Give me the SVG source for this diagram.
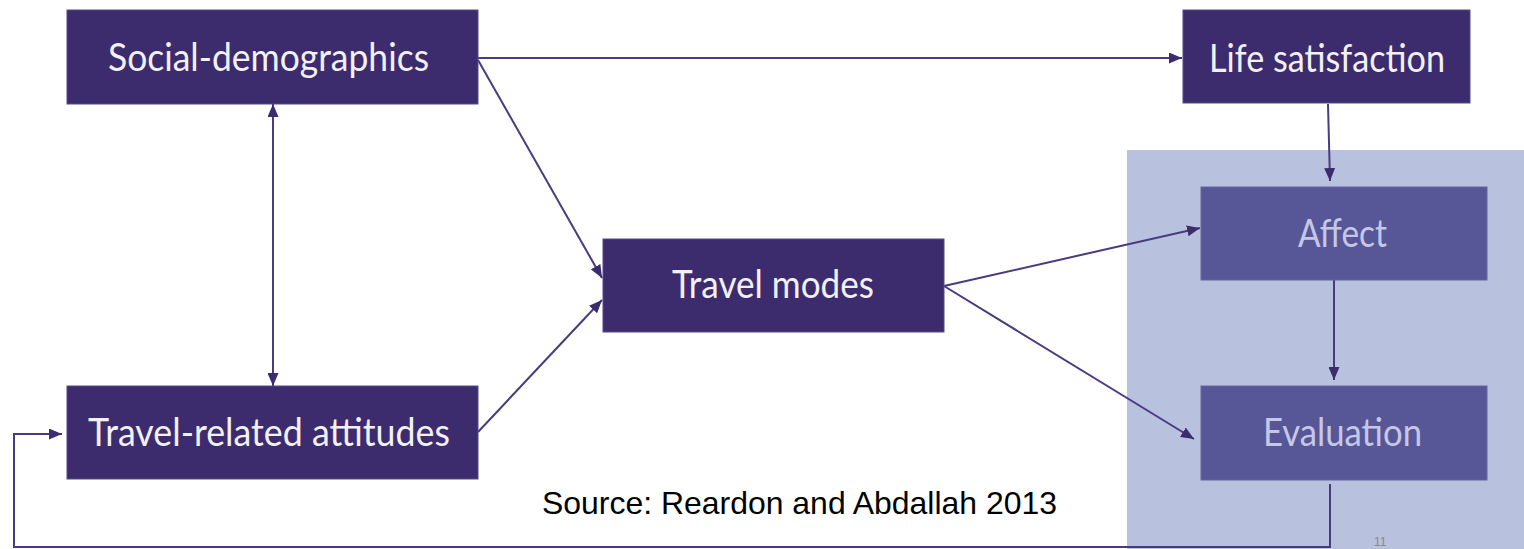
<svg xmlns="http://www.w3.org/2000/svg" width="1524" height="549" viewBox="0 0 1524 549">
<style>
.dark{fill:#3D2C6D;stroke:#55488A;stroke-width:1}
.light{fill:#575797;stroke:#6464A3;stroke-width:1}
.t{font-family:Lato,"Open Sans",sans-serif;font-size:38px;text-anchor:start}
.tw{fill:#F2F1F7}
.tl{fill:#C4C8E6}
.c{fill:none;stroke:#4A3A7E;stroke-width:2}
</style>
<defs>
<marker id="ah" viewBox="0 0 13 11" refX="13" refY="5.5" markerWidth="13" markerHeight="11" markerUnits="userSpaceOnUse" orient="auto-start-reverse">
<path d="M0,0 L13,5.5 L0,11 Z" fill="#3D2C6D"/>
</marker>
</defs>
<rect x="1127" y="150" width="397" height="399" fill="#B8C1DE"/>
<g id="connectors">
<line class="c" x1="478" y1="58" x2="1182" y2="58" marker-end="url(#ah)"/>
<line class="c" x1="478" y1="60" x2="602" y2="278" marker-end="url(#ah)"/>
<line class="c" x1="478" y1="432" x2="602" y2="300" marker-end="url(#ah)"/>
<line class="c" x1="273" y1="104" x2="273" y2="386" marker-start="url(#ah)" marker-end="url(#ah)"/>
<line class="c" x1="944" y1="286" x2="1200" y2="228" marker-end="url(#ah)"/>
<line class="c" x1="944" y1="286" x2="1194" y2="439" marker-end="url(#ah)"/>
<line class="c" x1="1328" y1="104" x2="1330" y2="181" marker-end="url(#ah)"/>
<line class="c" x1="1334" y1="280" x2="1334" y2="380" marker-end="url(#ah)"/>
<polyline class="c" points="1330,484 1330,547 14,547 14,434 62,434" stroke="#7468A6" marker-end="url(#ah)"/>
</g>
<g id="social-demographics">
<rect class="dark" x="67" y="10" width="411" height="94"/>
<text class="t tw" x="108" y="71" textLength="321" lengthAdjust="spacingAndGlyphs">Social-demographics</text>
</g>
<g id="travel-related-attitudes">
<rect class="dark" x="67" y="386" width="411" height="93"/>
<text class="t tw" x="88" y="446" textLength="362" lengthAdjust="spacingAndGlyphs">Travel-related attitudes</text>
</g>
<g id="travel-modes">
<rect class="dark" x="603" y="239" width="341" height="93"/>
<text class="t tw" x="672" y="298" textLength="202" lengthAdjust="spacingAndGlyphs">Travel modes</text>
</g>
<g id="life-satisfaction">
<rect class="dark" x="1183" y="10" width="287" height="93"/>
<text class="t tw" x="1209" y="72" textLength="236" lengthAdjust="spacingAndGlyphs">Life satisfaction</text>
</g>
<g id="affect">
<rect class="light" x="1201" y="187" width="286" height="93"/>
<text class="t tl" x="1298" y="247" textLength="89" lengthAdjust="spacingAndGlyphs">Affect</text>
</g>
<g id="evaluation">
<rect class="light" x="1201" y="386" width="286" height="94"/>
<text class="t tl" x="1263" y="446" textLength="159" lengthAdjust="spacingAndGlyphs">Evaluation</text>
</g>
<text x="542" y="514" font-family="'Liberation Sans',Arial,sans-serif" font-size="32" fill="#000" textLength="515" lengthAdjust="spacingAndGlyphs">Source: Reardon and Abdallah 2013</text>
<text x="1374" y="546" font-family="'Liberation Sans',Arial,sans-serif" font-size="12" fill="#8A8A8A">11</text>
</svg>
